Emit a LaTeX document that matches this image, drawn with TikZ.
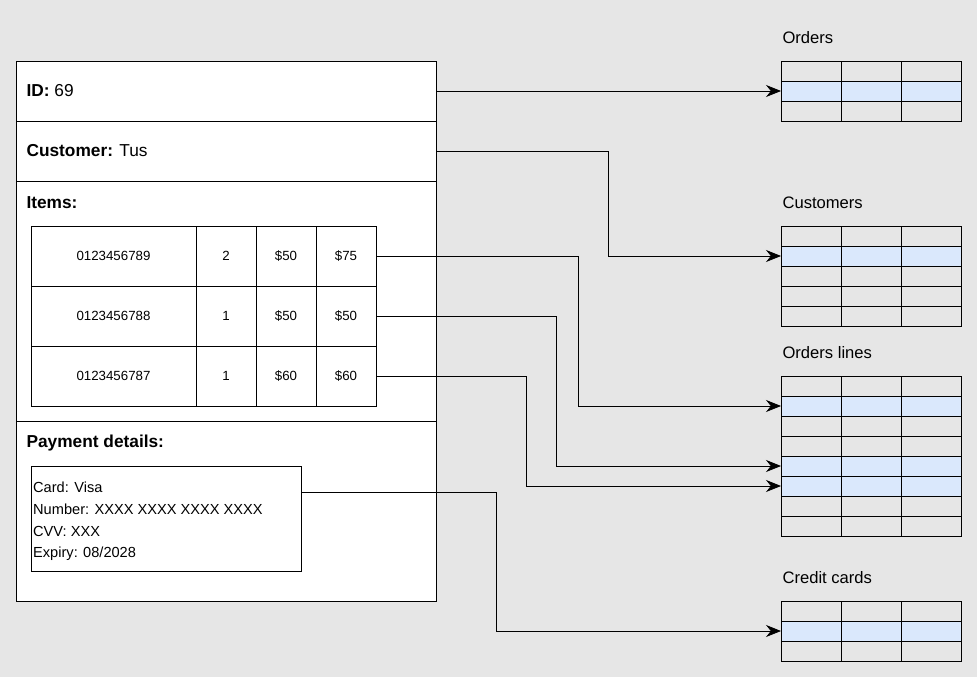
\documentclass[tikz,border=0pt]{standalone}
\usepackage{fontspec}
\setmainfont{Liberation Sans}
\usetikzlibrary{arrows.meta}
\definecolor{bg}{HTML}{E6E6E6}
\definecolor{hl}{HTML}{DAE8FC}
\begin{document}
\begin{tikzpicture}[x=1pt,y=-1pt,
  box/.style={draw=black,fill=white,line width=0.8pt},
  cell/.style={font=\fontsize{13.3}{16}\selectfont},
  lbl/.style={anchor=west,font=\fontsize{17.3}{20}\selectfont},
  ttl/.style={anchor=west,font=\fontsize{16.6}{20}\selectfont},
  conn/.style={draw=black,line width=0.8pt,-{Stealth[length=15pt,width=12pt]}}]
\fill[bg] (0,0) rectangle (977,677);
\useasboundingbox (0,0) rectangle (977,677);
% main box
\draw[box] (16,61) rectangle (436,601);
\foreach \y in {121,181,421} \draw[line width=0.8pt] (16,\y) -- (436,\y);
\node[lbl] at (23,91) {\textbf{ID:} 69};
\node[lbl] at (23,151) {\textbf{Customer:} Tus};
\node[lbl] at (23,203) {\textbf{Items:}};
\node[lbl] at (23,443) {\textbf{Payment details:}};
% items table
\draw[box] (31,226) rectangle (376,406);
\foreach \x in {196,256,316} \draw[line width=0.8pt] (\x,226) -- (\x,406);
\foreach \y in {286,346} \draw[line width=0.8pt] (31,\y) -- (376,\y);
\foreach \a/\b/\c/\d/\y in {0123456789/2/\$50/\$75/256,0123456788/1/\$50/\$50/316,0123456787/1/\$60/\$60/376}{
  \node[cell] at (113.5,\y) {\a};
  \node[cell] at (226,\y) {\b};
  \node[cell] at (286,\y) {\c};
  \node[cell] at (346,\y) {\d};
}
% payment box
\draw[box] (31,466) rectangle (301,571);
\node[anchor=north west,align=left,font=\fontsize{14.6}{21.7}\selectfont,inner sep=0pt] at (33,482)
 {Card: Visa\\Number: XXXX XXXX XXXX XXXX\\CVV: XXX\\Expiry: 08/2028};
% source coordinates
\coordinate (sid) at (436,91);
\coordinate (scu) at (436,151);
\coordinate (sr1) at (376,256);
\coordinate (sr2) at (376,316);
\coordinate (sr3) at (376,376);
\coordinate (spa) at (301,492);
% right tables
\newcommand{\dbtable}[4]{%
  \foreach \i in {#3} \fill[hl] (781,{#1+20*(\i-1)}) rectangle (961,{#1+20*\i});
  \foreach \i in {1,...,#2} \foreach \x in {781,841,901}
    \draw[line width=0.8pt] (\x,{#1+20*(\i-1)}) rectangle ++(60,20);
  \node[ttl] at (779,{#1-23}) {#4};
}
\dbtable{61}{3}{2}{Orders}
\dbtable{226}{5}{2}{Customers}
\dbtable{376}{8}{2,5,6}{Orders lines}
\dbtable{601}{3}{2}{Credit cards}
\coordinate (tor) at (781,91);
\coordinate (tcu) at (781,256);
\coordinate (tl1) at (781,406);
\coordinate (tl2) at (781,466);
\coordinate (tl3) at (781,486);
\coordinate (tcc) at (781,631);
% connectors
\draw[conn] (sid) -- (tor);
\draw[conn] (scu) -| (608,256) -- (tcu);
\draw[conn] (sr1) -| (578,406) -- (tl1);
\draw[conn] (sr2) -| (556,466) -- (tl2);
\draw[conn] (sr3) -| (526,486) -- (tl3);
\draw[conn] (spa) -| (496,631) -- (tcc);
\end{tikzpicture}
\end{document}
